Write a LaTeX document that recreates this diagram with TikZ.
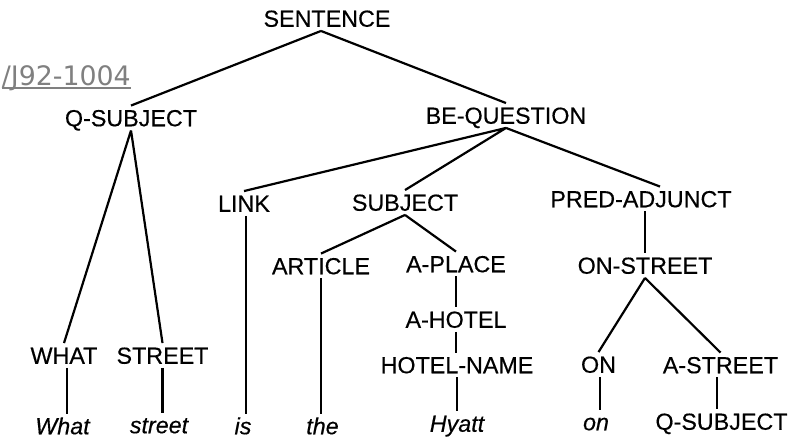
\documentclass[tikz,border=0pt]{standalone}
\usepackage{fontspec}
\setmainfont{Liberation Sans}
\newfontfamily\treefont[FakeBold=0.35]{Liberation Sans}
\newfontfamily\doifont{DejaVu Sans}
\definecolor{doigray}{RGB}{128,128,128}

\begin{document}
\begin{tikzpicture}[x = 1pt, y = -1pt,
	cat/.style = {font=\treefont\fontsize{23.3}{28}\selectfont, text height=16.5pt, text depth=0pt, inner xsep=0pt, inner ysep=4pt},
	word/.style = {cat, font=\treefont\fontsize{23.3}{28}\selectfont\itshape},
	branch/.style = {line width=2.2pt}]
	\useasboundingbox (0,0) rectangle (789,442);
	\node[anchor = base east, inner sep = 0pt, text = doigray, font = \doifont\fontsize{26.8}{30}\selectfont] (doi) at (131,85) {/J92-1004};
	\draw[doigray, line width = 1.2pt] ([yshift=-3pt]doi.base west) -- ([yshift=-3pt]doi.base east);
	\node[cat] (sentence) at (327,18.5) {SENTENCE};
	\node[cat] (qsubj) at (131,118) {Q-SUBJECT};
	\node[cat] (bequest) at (506,115.5) {BE-QUESTION};
	\node[cat] (link) at (244,203.5) {LINK};
	\node[cat] (subject) at (405,202.5) {SUBJECT};
	\node[cat] (predadj) at (641,199) {PRED-ADJUNCT};
	\node[cat] (article) at (321,266) {ARTICLE};
	\node[cat] (aplace) at (456,264) {A-PLACE};
	\node[cat] (onstreet) at (645,265.5) {ON-STREET};
	\node[cat] (ahotel) at (456,319.5) {A-HOTEL};
	\node[cat] (what) at (64,355.5) {WHAT};
	\node[cat] (street) at (162.5,355.5) {STREET};
	\node[cat] (hotelname) at (457,365) {HOTEL-NAME};
	\node[cat] (on) at (598.5,364.5) {ON};
	\node[cat] (astreet) at (720.5,365) {A-STREET};
	\node[word] (wwhat) at (62.5,426) {What};
	\node[word] (wstreet) at (159,425) {street};
	\node[word] (wis) at (243,426) {is};
	\node[word] (wthe) at (322.5,426) {the};
	\node[word] (whyatt) at (457,423.5) {Hyatt};
	\node[word] (won) at (596,422) {on};
	\node[cat] (wqsubj) at (721.5,421.5) {Q-SUBJECT};
	\draw[branch] ([xshift=-6pt]sentence.south) -- (qsubj.north)
		([xshift=-6pt]sentence.south) -- (bequest.north)
		(qsubj.south) -- (what.north)
		(qsubj.south) -- (street.north)
		(bequest.south) -- (link.north)
		(bequest.south) -- (subject.north)
		(bequest.south) -- ([xshift=19pt]predadj.north)
		(subject.south) -- (article.north)
		(subject.south) -- (aplace.north)
		(onstreet.south) -- (on.north)
		(onstreet.south) -- (astreet.north);
	\draw[branch] ([xshift=2pt]link.south) -- ([xshift=2pt]link.south |- wis.north)
		(onstreet.north |- predadj.south) -- (onstreet.north)
		(aplace.south) -- (aplace.south |- ahotel.north)
		(ahotel.south) -- (ahotel.south |- hotelname.north)
		(hotelname.south) -- (hotelname.south |- whyatt.north)
		([xshift=3pt]what.south) -- ([xshift=3pt]what.south |- wwhat.north)
		(street.south) -- (street.south |- wstreet.north)
		(article.south) -- (article.south |- wthe.north)
		([xshift=1.5pt]on.south) -- ([xshift=1.5pt]on.south |- won.north)
		([xshift=-3.5pt]astreet.south) -- ([xshift=-3.5pt]astreet.south |- wqsubj.north);
\end{tikzpicture}
\end{document}
